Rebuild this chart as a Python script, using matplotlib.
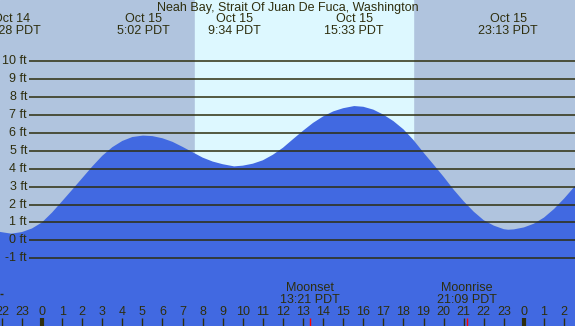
import matplotlib
matplotlib.use("Agg")
import matplotlib.pyplot as plt
import matplotlib.transforms as mtransforms

# ---- data ----
hours = [-2.1, -1.53, -1, -0.5, 0, 0.5, 1, 1.5, 2, 2.5, 3, 3.5, 4, 4.5, 5.03, 5.5, 6, 6.5,
         7, 7.5, 8, 8.5, 9, 9.57, 10, 10.5, 11, 11.5, 12, 12.5, 13, 13.5, 14, 14.5, 15,
         15.55, 16, 16.5, 17, 17.5, 18, 18.5, 19, 19.5, 20, 20.5, 21, 21.5, 22, 22.5, 23,
         23.22, 23.5, 24, 24.5, 25, 25.5, 26, 26.6]
heights = [0.47, 0.37, 0.46, 0.66, 1.0, 1.55, 2.18, 2.82, 3.47, 4.12, 4.72, 5.2, 5.55, 5.77,
           5.85, 5.82, 5.7, 5.5, 5.22, 4.92, 4.62, 4.4, 4.25, 4.13, 4.17, 4.28, 4.47, 4.78,
           5.17, 5.65, 6.12, 6.56, 6.92, 7.2, 7.38, 7.5, 7.46, 7.3, 7.02, 6.66, 6.2, 5.6,
           4.9, 4.23, 3.55, 2.83, 2.18, 1.6, 1.12, 0.82, 0.62, 0.59, 0.61, 0.72, 0.93, 1.27,
           1.75, 2.33, 3.1]

tide_hours = [-1.533, 5.033, 9.567, 15.55, 23.217]
tide_labels = ["Oct 14\n22:28 PDT", "Oct 15\n5:02 PDT", "Oct 15\n9:34 PDT",
               "Oct 15\n15:33 PDT", "Oct 15\n23:13 PDT"]

ft_levels = [-1, 0, 1, 2, 3, 4, 5, 6, 7, 8, 9, 10]
ft_labels = ["-1 ft", "0 ft", "1 ft", "2 ft", "3 ft", "4 ft", "5 ft", "6 ft", "7 ft",
             "8 ft", "9 ft", "10 ft"]

hour_ticks = list(range(-2, 27))
hour_labels = ["22", "23", "0", "1", "2", "3", "4", "5", "6", "7", "8", "9", "10", "11",
               "12", "13", "14", "15", "16", "17", "18", "19", "20", "21", "22", "23",
               "0", "1", "2"]
midnights = [0, 24]

sunrise, sunset = 7.62, 18.48
moon_hours = [13.35, 21.15]
moon_labels = ["Moonset\n13:21 PDT", "Moonrise\n21:09 PDT"]

title = "Neah Bay, Strait Of Juan De Fuca, Washington"

# ---- styling ----
W, H = 575, 326
night_c = "#B0C4DE"
day_c = "#DDF8FF"
fill_c = "#4169E1"
ink = "#2e2e0e"
plt.rcParams["font.family"] = ["Liberation Sans", "DejaVu Sans"]
fs = 9

fig = plt.figure(figsize=(W / 100, H / 100), dpi=100)
ax = fig.add_axes([0, 0, 1, 1])
x0, x1 = (0 - 42) / 20.08, (W - 42) / 20.08
px_per_ft = 17.9
y0ft = 240.3
ax.set_xlim(x0, x1)
ax.set_ylim((y0ft - H) / px_per_ft, y0ft / px_per_ft)
ax.axis("off")
ax.set_facecolor(night_c)
ax.axvspan(x0, x1, color=night_c, zorder=0)
ax.axvspan(sunrise, sunset, color=day_c, zorder=1)

ax.fill_between(hours, heights, -10, color=fill_c, lw=0, zorder=2)

# grid lines
gx_start = (29 - 42) / 20.08
for lv, lb in zip(ft_levels, ft_labels):
    ax.plot([gx_start, x1], [lv, lv], color=ink, lw=1.1, zorder=3,
            solid_capstyle="butt")
    ax.text((27 - 42) / 20.08, lv, lb, ha="right", va="center", fontsize=fs,
            color=ink, zorder=4)

def ypx(p):
    return 1 - p / H

blend = mtransforms.blended_transform_factory(ax.transData, fig.transFigure)

fig.text(0.5, ypx(8), title, ha="center", va="center", fontsize=fs, color=ink)
for th, tl in zip(tide_hours, tide_labels):
    a, b = tl.split("\n")
    ax.text(th, ypx(19.5), a, transform=blend, ha="center", va="center",
            fontsize=fs, color=ink)
    ax.text(th, ypx(31.5), b, transform=blend, ha="center", va="center",
            fontsize=fs, color=ink)

# hour labels and ticks
for hv, hl in zip(hour_ticks, hour_labels):
    ax.text(hv, ypx(312), hl, transform=blend, ha="center", va="center",
            fontsize=fs, color=ink)
    lw = 3 if hv in midnights else 1
    ax.plot([hv, hv], [ypx(318), ypx(326)], transform=blend, color=ink, lw=lw,
            solid_capstyle="butt", zorder=5)

for mh, ml in zip(moon_hours, moon_labels):
    a, b = ml.split("\n")
    ax.text(mh, ypx(288), a, transform=blend, ha="center", va="center",
            fontsize=fs, color=ink)
    ax.text(mh, ypx(300), b, transform=blend, ha="center", va="center",
            fontsize=fs, color=ink)
    ax.plot([mh, mh], [ypx(318), ypx(326)], transform=blend, color="red", lw=1,
            solid_capstyle="butt", zorder=6)

# small dash at left edge
ax.plot([x0, (3 - 42) / 20.08], [-3, -3], color=ink, lw=1, solid_capstyle="butt")

fig.savefig("out.png", dpi=100)
